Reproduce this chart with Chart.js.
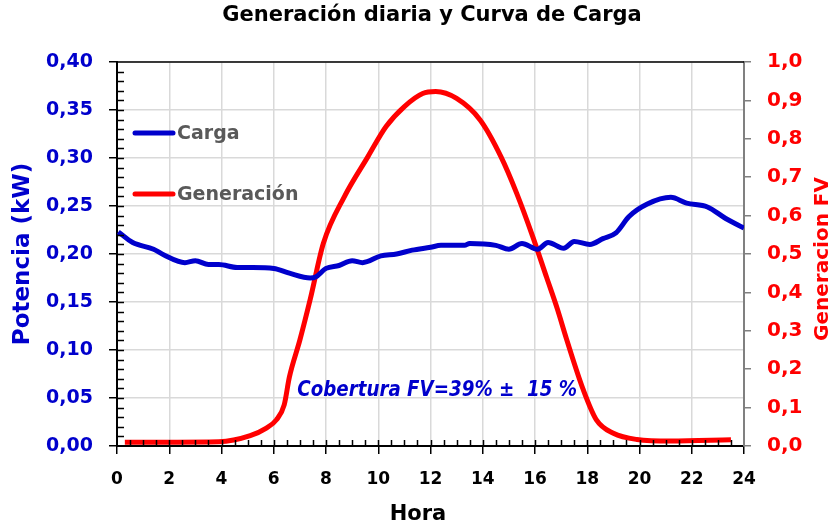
<!DOCTYPE html>
<html>
<head>
<meta charset="utf-8">
<script src="https://cdn.jsdelivr.net/npm/chart.js@4.4.1/dist/chart.umd.min.js"></script>
<style>
  html, body { margin: 0; padding: 0; background: #fff; }
  #wrap { width: 835px; height: 522px; }
</style>
</head>
<body>
<div id="wrap"><canvas id="chart" width="835" height="522"></canvas></div>
<script>
  // Carga (kW) vs hora
  const horaCarga = [0.05, 0.6, 1.4, 1.8, 2.6, 3.0, 3.5, 3.9, 4.6, 5.2, 6.0, 6.6, 7.4, 7.6, 8.0, 8.5, 9.0, 9.4,
    10.1, 10.7, 11.3, 12.0, 12.4, 13.3, 13.5, 14.5, 15.0, 15.5, 16.1, 16.5, 17.1, 17.5, 18.1, 18.6, 19.1,
    19.6, 20.3, 21.2, 21.8, 22.6, 23.3, 24.0];
  const carga = [0.223, 0.212, 0.205, 0.199, 0.191, 0.193, 0.189, 0.189, 0.186, 0.186, 0.185, 0.180, 0.175,
    0.176, 0.185, 0.188, 0.193, 0.191, 0.198, 0.200, 0.204, 0.207, 0.209, 0.209, 0.211, 0.209, 0.205, 0.211,
    0.205, 0.212, 0.206, 0.213, 0.210, 0.216, 0.222, 0.239, 0.252, 0.259, 0.253, 0.249, 0.237, 0.227];

  // Generacion FV (normalizada) vs hora
  const horaGen = [0.3, 2.0, 3.9, 5.1, 5.7, 6.1, 6.4, 6.6, 7.0, 7.4, 7.9, 8.7, 9.6, 10.3, 11.0, 11.7, 12.2,
    13.0, 13.9, 14.7, 15.3, 15.9, 16.45, 16.85, 17.2, 17.85, 18.35, 19.0, 19.9, 21.2, 23.5];
  const generacion = [0.010, 0.010, 0.011, 0.027, 0.046, 0.068, 0.107, 0.18, 0.276, 0.383, 0.528, 0.649,
    0.753, 0.832, 0.884, 0.918, 0.923, 0.905, 0.849, 0.753, 0.658, 0.548, 0.438, 0.358, 0.28, 0.146, 0.068,
    0.033, 0.017, 0.013, 0.016];

  const titulo = 'Generación diaria y Curva de Carga';
  const nota = 'Cobertura FV=39% \u00b1  15 %';

  const FONT = '"DejaVu Sans", sans-serif';
  const AZUL = '#0000CC';
  const ROJO = '#FF0000';

  function toXY(xs, ys) {
    return xs.map((x, i) => ({ x: x, y: ys[i] }));
  }

  // Format with decimal comma
  function coma(v, dec) {
    return v.toFixed(dec).replace('.', ',');
  }

  // title, minor ticks, top border, legend, axis titles and annotation
  const extras = {
    id: 'extras',
    afterDraw(chart) {
      const { ctx, chartArea: a, scales } = chart;
      const x = scales.x, y = scales.y, y1 = scales.y1;
      ctx.save();

      // title
      ctx.font = 'bold 21px ' + FONT;
      ctx.fillStyle = '#000';
      ctx.textAlign = 'center';
      ctx.textBaseline = 'alphabetic';
      ctx.fillText(titulo, 432, 21);

      // x axis title
      ctx.font = 'bold 21px ' + FONT;
      ctx.fillText('Hora', 418, 520);

      // top border
      ctx.strokeStyle = '#000';
      ctx.lineWidth = 1.5;
      ctx.beginPath();
      ctx.moveTo(a.left, a.top);
      ctx.lineTo(a.right, a.top);
      ctx.stroke();

      // inner ticks
      ctx.beginPath();
      for (let h = 0.5; h < 24; h += 0.5) {
        const px = Math.round(x.getPixelForValue(h)) + 0.5;
        ctx.moveTo(px, a.bottom);
        ctx.lineTo(px, a.bottom - 6);
      }
      for (let v = 0.01; v < 0.4; v += 0.01) {
        const py = Math.round(y.getPixelForValue(v)) + 0.5;
        ctx.moveTo(a.left, py);
        ctx.lineTo(a.left + 7, py);
      }
      ctx.stroke();

      // legend
      const items = [['Carga', AZUL, 133], ['Generación', ROJO, 194]];
      ctx.font = 'bold 19px ' + FONT;
      ctx.textBaseline = 'middle';
      ctx.textAlign = 'left';
      items.forEach(it => {
        ctx.strokeStyle = it[1];
        ctx.lineWidth = 5;
        ctx.lineCap = 'round';
        ctx.beginPath();
        ctx.moveTo(a.left + 18, it[2]);
        ctx.lineTo(a.left + 56, it[2]);
        ctx.stroke();
        ctx.fillStyle = '#595959';
        ctx.fillText(it[0], a.left + 60, it[2] + 1);
      });

      // annotation (narrowed to match the original's condensed face)
      ctx.save();
      ctx.translate(x.getPixelForValue(6.9), y1.getPixelForValue(0.13));
      ctx.scale(0.83, 1);
      ctx.font = 'italic bold 22px ' + FONT;
      ctx.fillStyle = AZUL;
      ctx.textBaseline = 'alphabetic';
      ctx.fillText(nota, 0, 0);
      ctx.restore();

      // right axis title (reads bottom to top)
      ctx.translate(823, 259);
      ctx.rotate(-Math.PI / 2);
      ctx.textAlign = 'center';
      ctx.textBaseline = 'middle';
      ctx.font = 'bold 20px ' + FONT;
      ctx.fillStyle = ROJO;
      ctx.fillText('Generacion FV', 0, 0);
      ctx.restore();
    }
  };

  new Chart(document.getElementById('chart'), {
    type: 'line',
    data: {
      datasets: [
        {
          label: 'Carga',
          data: toXY(horaCarga, carga),
          yAxisID: 'y',
          borderColor: AZUL,
          borderWidth: 5,
          pointRadius: 0,
          cubicInterpolationMode: 'monotone'
        },
        {
          label: 'Generación',
          data: toXY(horaGen, generacion),
          yAxisID: 'y1',
          borderColor: ROJO,
          borderWidth: 5,
          pointRadius: 0,
          cubicInterpolationMode: 'monotone'
        }
      ]
    },
    options: {
      responsive: false,
      animation: false,
      events: [],
      layout: { padding: { top: 62 } },
      plugins: {
        legend: { display: false },
        tooltip: { enabled: false },
        title: { display: false }
      },
      scales: {
        x: {
          type: 'linear',
          min: 0,
          max: 24,
          afterFit: s => { s.height = 76; },
          ticks: {
            stepSize: 2,
            color: '#000',
            padding: 15,
            font: { family: FONT, size: 17, weight: 'bold' }
          },
          grid: { color: '#d9d9d9', lineWidth: 1.5, tickColor: '#000', tickLength: 8 },
          border: { color: '#000', width: 2 }
        },
        y: {
          position: 'left',
          min: 0,
          max: 0.4,
          afterFit: s => { s.width = 117; },
          ticks: {
            stepSize: 0.05,
            color: AZUL,
            padding: 16,
            font: { family: FONT, size: 19, weight: 'bold' },
            callback: v => coma(v, 2)
          },
          grid: { color: '#d9d9d9', lineWidth: 1.5, tickColor: '#000', tickLength: 8 },
          border: { color: '#000', width: 2 },
          title: {
            display: true,
            text: 'Potencia (kW)',
            color: AZUL,
            font: { family: FONT, size: 23, weight: 'bold' },
            padding: { top: 9, bottom: 0 }
          }
        },
        y1: {
          position: 'right',
          min: 0,
          max: 1,
          afterFit: s => { s.width = 91; },
          ticks: {
            stepSize: 0.1,
            color: ROJO,
            padding: 16,
            font: { family: FONT, size: 20, weight: 'bold' },
            callback: v => coma(v, 1)
          },
          grid: { drawOnChartArea: false, tickColor: '#808080', tickLength: 7, lineWidth: 1.5 },
          border: { color: '#808080', width: 2 }
        }
      }
    },
    plugins: [extras]
  });
</script>
</body>
</html>
